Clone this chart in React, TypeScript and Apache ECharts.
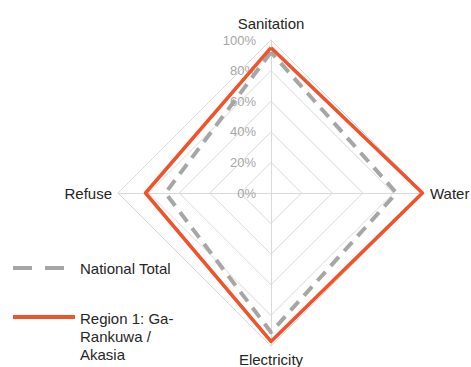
import React, { useEffect, useRef } from 'react';
import * as echarts from 'echarts';

// Indicators in ECharts radar order (counter-clockwise from top)
const indicators = ['Sanitation', 'Refuse', 'Electricity', 'Water'];
const seriesNames = ['National Total', 'Region 1: Ga-Rankuwa / Akasia'];
const legendLabels = ['National Total', 'Region 1: Ga-\nRankuwa /\nAkasia'];
const nationalTotal = [92, 69, 91, 82];
const region1 = [95, 82, 97, 99];
const maxValue = 100;

const GRAY = '#A6A6A6';
const ORANGE = '#F0522A';
const FONT = '15px "Liberation Sans", Arial, sans-serif';

export default function App() {
  const ref = useRef<HTMLDivElement>(null);
  useEffect(() => {
    if (!ref.current) return;
    const chart = echarts.init(ref.current, undefined, { renderer: 'svg' });
    chart.setOption({
      animation: false,
      backgroundColor: '#ffffff',
      textStyle: { fontFamily: 'Liberation Sans, Arial, sans-serif' },
      radar: {
        center: [271, 193],
        radius: 153,
        shape: 'polygon',
        splitNumber: 5,
        startAngle: 90,
        nameGap: 6,
        axisName: {
          color: '#262626',
          fontSize: 15,
          formatter: (name: string) => (name === 'Sanitation' ? `{top|${name}}` : name),
          rich: { top: { fontSize: 15, color: '#262626', padding: [0, 0, 3, 0] } },
        },
        indicator: indicators.map((name, i) =>
          i === 0
            ? {
                name,
                max: maxValue,
                min: 0,
                axisLabel: {
                  show: true,
                  margin: 15,
                  color: '#A6A6A6',
                  fontSize: 13,
                  formatter: (v: number) => `${v}%`,
                },
              }
            : { name, max: maxValue, min: 0 }
        ),
        axisLabel: { show: false },
        axisLine: { lineStyle: { color: '#D9D9D9', width: 1 } },
        splitLine: { lineStyle: { color: '#D9D9D9', width: 1 } },
        splitArea: { show: false },
        axisTick: { show: false },
      },
      series: [
        {
          type: 'radar',
          symbol: 'none',
          data: [
            {
              name: seriesNames[0],
              value: nationalTotal,
              lineStyle: { color: GRAY, width: 4, type: [12, 8] },
            },
            {
              name: seriesNames[1],
              value: region1,
              lineStyle: { color: ORANGE, width: 3.5, type: 'solid' },
            },
          ],
        },
      ],
      graphic: [
        {
          type: 'line',
          shape: { x1: 13, y1: 268, x2: 75, y2: 268 },
          style: { stroke: GRAY, lineWidth: 4, lineDash: [19, 13] },
        },
        {
          type: 'text',
          x: 80,
          y: 268,
          style: {
            text: legendLabels[0],
            fill: '#262626',
            font: FONT,
            verticalAlign: 'middle',
          },
        },
        {
          type: 'line',
          shape: { x1: 13, y1: 317, x2: 75, y2: 317 },
          style: { stroke: ORANGE, lineWidth: 4 },
        },
        {
          type: 'text',
          x: 80,
          y: 309,
          style: {
            text: legendLabels[1],
            fill: '#262626',
            font: FONT,
            lineHeight: 18,
            verticalAlign: 'top',
          },
        },
      ],
    });
    return () => chart.dispose();
  }, []);
  return (
    <div
      ref={ref}
      style={{ position: 'fixed', left: 0, top: 0, width: 471, height: 367 }}
    />
  );
}
